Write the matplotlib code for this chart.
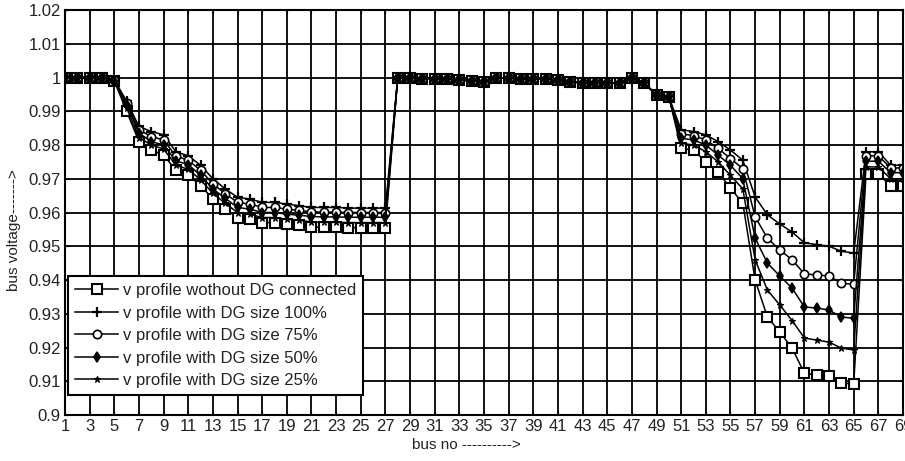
import matplotlib
matplotlib.use("Agg")
import matplotlib.pyplot as plt
from matplotlib.ticker import FuncFormatter

plt.rcParams["font.family"] = ["Liberation Sans", "DejaVu Sans"]

bus = list(range(1, 70))

# buses 28..50 (laterals near the substation), nearly the same for every case
v_mid = [0.9999, 0.9999, 0.9997, 0.9997, 0.9996, 0.9993, 0.999, 0.9987,
         0.9999, 0.9998, 0.9996, 0.9996, 0.9996, 0.9992, 0.9986, 0.9985,
         0.9985, 0.9984, 0.9984, 0.9999, 0.9985, 0.9947, 0.9942]

v_none = ([1.0, 1.0, 1.0, 1.0, 0.999, 0.990, 0.981, 0.9785, 0.977, 0.9725,
           0.971, 0.968, 0.964, 0.961, 0.9585, 0.958, 0.957, 0.957, 0.9565,
           0.9562, 0.9557, 0.9556, 0.9556, 0.9555, 0.9555, 0.9555, 0.9555]
          + v_mid
          + [0.979, 0.9785, 0.975, 0.972, 0.9672, 0.9628, 0.940, 0.929, 0.9246,
             0.9198, 0.9124, 0.9118, 0.9116, 0.9095, 0.9092, 0.9713, 0.9713,
             0.968, 0.968])

v_dg100 = ([1.0, 1.0, 1.0, 1.0, 0.9993, 0.993, 0.9855, 0.984, 0.983, 0.978,
            0.9768, 0.974, 0.970, 0.967, 0.9645, 0.964, 0.963, 0.963, 0.9625,
            0.962, 0.9615, 0.9615, 0.9615, 0.9613, 0.9613, 0.9613, 0.9613]
           + v_mid
           + [0.9845, 0.984, 0.983, 0.981, 0.9785, 0.9755, 0.9646, 0.9593,
              0.9566, 0.9542, 0.951, 0.9505, 0.950, 0.9485, 0.948, 0.978,
              0.978, 0.974, 0.974])

v_dg75 = ([1.0, 1.0, 1.0, 1.0, 0.9992, 0.9925, 0.9845, 0.9825, 0.9815, 0.9767,
           0.9755, 0.9725, 0.9685, 0.9656, 0.963, 0.9625, 0.9615, 0.9615,
           0.961, 0.9606, 0.9602, 0.9601, 0.9601, 0.960, 0.960, 0.960, 0.960]
          + v_mid
          + [0.9833, 0.9828, 0.9815, 0.979, 0.976, 0.973, 0.9587, 0.9524,
             0.9489, 0.946, 0.9418, 0.9415, 0.9412, 0.939, 0.9388, 0.9768,
             0.9768, 0.9732, 0.9732])

v_dg50 = ([1.0, 1.0, 1.0, 1.0, 0.9991, 0.992, 0.9835, 0.981, 0.980, 0.9753,
           0.9742, 0.971, 0.967, 0.9642, 0.9615, 0.961, 0.960, 0.960, 0.9595,
           0.9592, 0.9588, 0.9587, 0.9587, 0.9586, 0.9586, 0.9586, 0.9586]
          + v_mid
          + [0.982, 0.9815, 0.980, 0.977, 0.974, 0.970, 0.9524, 0.945, 0.9412,
             0.9376, 0.932, 0.9317, 0.9311, 0.929, 0.9287, 0.9752, 0.9752,
             0.9718, 0.9718])

v_dg25 = ([1.0, 1.0, 1.0, 1.0, 0.999, 0.991, 0.9822, 0.980, 0.9788, 0.974,
           0.9728, 0.9697, 0.9657, 0.9627, 0.960, 0.9595, 0.9585, 0.9585,
           0.958, 0.9577, 0.9572, 0.9571, 0.9571, 0.957, 0.957, 0.957, 0.957]
          + v_mid
          + [0.9805, 0.980, 0.978, 0.975, 0.971, 0.967, 0.946, 0.937, 0.9326,
             0.928, 0.9228, 0.9222, 0.9216, 0.9198, 0.9193, 0.9735, 0.9735,
             0.970, 0.970])

labels = ["v profile wothout DG connected",
          "v profile with DG size 100%",
          "v profile with DG size 75%",
          "v profile with DG size 50%",
          "v profile with DG size 25%"]

x_ticks = list(range(1, 70, 2))
y_ticks = [0.90, 0.91, 0.92, 0.93, 0.94, 0.95, 0.96, 0.97, 0.98, 0.99, 1.00, 1.01, 1.02]

fig = plt.figure(figsize=(9.05, 4.61), dpi=100)
ax = fig.add_axes([65 / 905, 46 / 461, 838 / 905, 405 / 461])

styles = [
    dict(marker="s", markersize=6.5, markerfacecolor="white", markeredgewidth=1.5),
    dict(marker="+", markersize=7, markeredgewidth=1.6),
    dict(marker="o", markersize=6, markerfacecolor="white", markeredgewidth=1.2),
    dict(marker="d", markersize=5, markerfacecolor="black", markeredgewidth=1.2),
    dict(marker="*", markersize=5, markerfacecolor="black", markeredgewidth=0.8),
]

for v, lab, st in zip([v_none, v_dg100, v_dg75, v_dg50, v_dg25], labels, styles):
    ax.plot(bus, v, color="black", linewidth=1.1, label=lab, markeredgecolor="black", **st)

ax.set_xlim(1, 69)
ax.set_ylim(0.9, 1.02)
ax.set_xticks(x_ticks)
ax.set_yticks(y_ticks)
ax.yaxis.set_major_formatter(FuncFormatter(lambda y, p: "%g" % round(y, 2)))
ax.grid(True, color="black", linewidth=1.3)
ax.set_axisbelow(True)
ax.tick_params(direction="in", length=3, top=True, right=True, labelsize=12,
               colors="black", labelcolor="#222222", pad=3)
for s in ax.spines.values():
    s.set_linewidth(1.5)

fig.text(0.015, 0.5, "bus voltage------->", rotation=90, va="center", ha="center",
         fontsize=11, color="#222222")
fig.text(466 / 905, 16 / 461, "bus no ---------->", va="center", ha="center",
         fontsize=11, color="#222222")

leg = ax.legend(loc="lower left", bbox_to_anchor=(0.004, 0.05), borderaxespad=0,
                fontsize=12, frameon=True, fancybox=False, framealpha=1,
                edgecolor="black", handlelength=2.6, handletextpad=0.3,
                labelspacing=0.45, borderpad=0.4)
leg.get_frame().set_linewidth(1.5)
for t in leg.get_texts():
    t.set_color("#222222")

fig.savefig("out.png", dpi=100)
